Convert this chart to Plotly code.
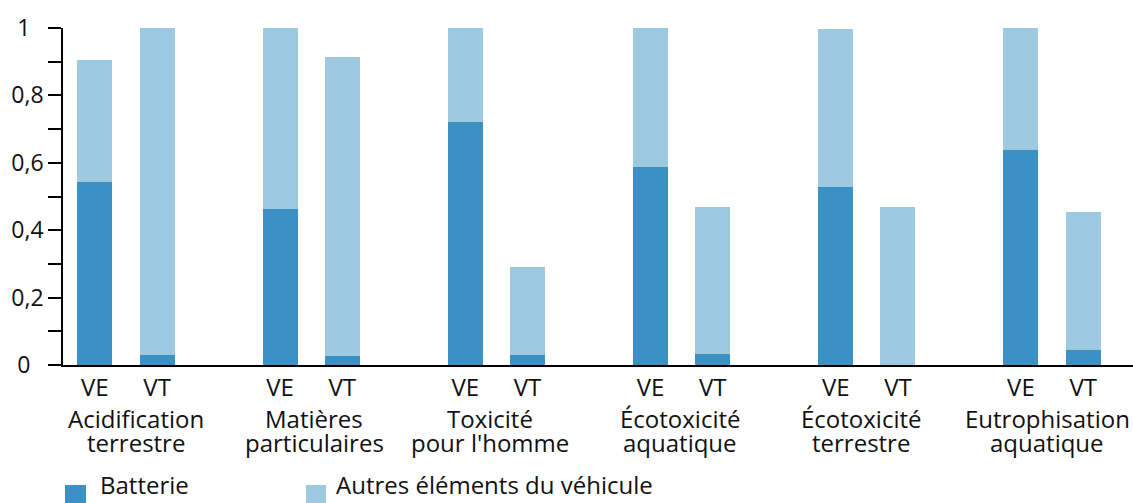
import plotly.graph_objects as go

# ---- data ----
categories = ["Acidification<br>terrestre", "Matières<br>particulaires", "Toxicité<br>pour l'homme",
              "Écotoxicité<br>aquatique", "Écotoxicité<br>terrestre", "Eutrophisation<br>aquatique"]
vehicles = ["VE", "VT"]
battery_ve = [0.543, 0.463, 0.722, 0.589, 0.528, 0.638]
other_ve = [0.363, 0.537, 0.278, 0.411, 0.469, 0.362]
battery_vt = [0.031, 0.028, 0.031, 0.034, 0.0, 0.045]
other_vt = [0.969, 0.885, 0.261, 0.435, 0.469, 0.409]
y_tick_vals = [0, 0.1, 0.2, 0.3, 0.4, 0.5, 0.6, 0.7, 0.8, 0.9, 1.0]
y_tick_text = ["0\u2007", "", "0,2", "", "0,4", "", "0,6", "", "0,8", "", "1\u2007"]
series_names = ["Batterie", "Autres éléments du véhicule"]

# ---- styling / layout ----
C_BAT = "#3b91c4"
C_OTH = "#9dcae1"
FONT = "Open Sans"
W, H = 1133, 503
ML, MR, MT, MB = 63, 0, 28, 138
PW, PH = W - ML - MR, H - MT - MB
off = 0.168
bw = 0.189
label_nudge = [10, 3, -6, -2, -6, -5]   # small horizontal pixel nudges of group labels

xs, bat, oth, ticktext = [], [], [], []
for i in range(len(categories)):
    xs += [i - off, i + off]
    bat += [battery_ve[i], battery_vt[i]]
    oth += [other_ve[i], other_vt[i]]
    ticktext += vehicles

fig = go.Figure()
fig.add_trace(go.Bar(x=xs, y=bat, name=series_names[0], width=bw,
                     marker=dict(color=C_BAT, line=dict(width=0)), showlegend=False))
fig.add_trace(go.Bar(x=xs, y=oth, name=series_names[1], width=bw,
                     marker=dict(color=C_OTH, line=dict(width=0)), showlegend=False))

def px_x(p):
    return (p - ML) / PW

def px_y(p):
    return (H - MB - p) / PH

annotations = []
for i, cat in enumerate(categories):
    lines = cat.split("<br>")
    for j, ln in enumerate(lines):
        annotations.append(dict(x=i, xref="x", xshift=label_nudge[i],
                                y=px_y(418 + 24 * j), yref="paper",
                                text=ln, showarrow=False, xanchor="center", yanchor="middle",
                                font=dict(family=FONT, size=24, color="#111")))

# legend (custom)
leg = [(65, 86, 98, C_BAT), (306, 326, 334, C_OTH)]
shapes = []
for (x0, x1, tx, col), name in zip(leg, series_names):
    shapes.append(dict(type="rect", xref="paper", yref="paper",
                       x0=px_x(x0), x1=px_x(x1), y0=px_y(485), y1=px_y(506),
                       fillcolor=col, line=dict(width=0)))
    annotations.append(dict(x=px_x(tx), xref="paper", y=px_y(503), yref="paper",
                            text=name, showarrow=False, xanchor="left", yanchor="bottom",
                            font=dict(family=FONT, size=24, color="#111")))

fig.update_layout(
    width=W, height=H, barmode="stack",
    margin=dict(l=ML, r=MR, t=MT, b=MB, pad=0),
    plot_bgcolor="white", paper_bgcolor="white",
    font=dict(family=FONT, size=24, color="#111"),
    annotations=annotations, shapes=shapes,
    xaxis=dict(range=[-0.34, 5.437], tickmode="array", tickvals=xs, ticktext=ticktext,
               ticks="", showline=True, linecolor="black", linewidth=2,
               showgrid=False, zeroline=False, tickfont=dict(size=24), fixedrange=True),
    yaxis=dict(range=[0, 1], tickmode="array", tickvals=y_tick_vals, ticktext=y_tick_text,
               ticks="outside", ticklen=13, tickwidth=1.7, tickcolor="black",
               showline=True, linecolor="black", linewidth=1.7,
               showgrid=False, zeroline=False, tickfont=dict(size=23), fixedrange=True),
)

fig.write_html("out.html", config={"displayModeBar": False},
               post_script="document.body.style.margin='0';document.body.style.overflow='hidden';")
